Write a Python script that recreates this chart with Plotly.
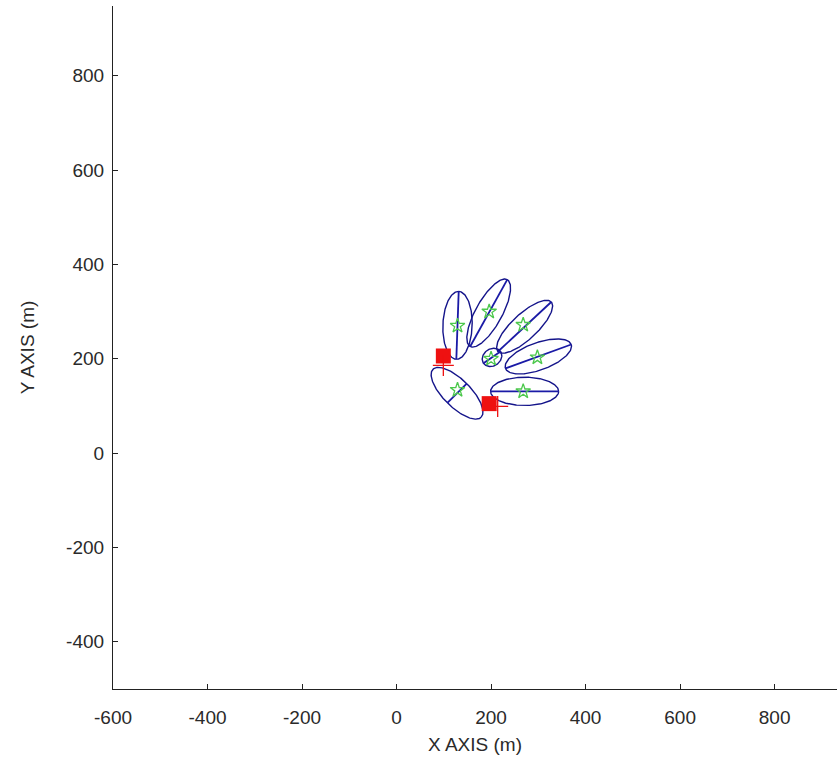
import numpy as np
import plotly.graph_objects as go

# Ellipse parameters (data units)
ell_cx = [129, 195, 271, 300, 271, 128, 202]
ell_cy = [271, 297, 268, 205, 131, 127, 203]
ell_a = [72, 81, 77, 74, 72, 72, 22]      # semi-major
ell_b = [31, 28, 27, 29, 30, 29, 18]      # semi-minor
ell_ang = [88, 61, 43, 20, 0, -45, 35]    # degrees
line_axis = ["major", "major", "major", "major", "major", "minor", "major"]

# Estimated positions (green stars)
star_x = [129, 196, 268, 298, 268, 129, 200]
star_y = [270, 300, 272, 203, 131, 134, 200]

# Anchor nodes (red squares) and their estimates (red plus)
anchor_x = [99, 196]
anchor_y = [206, 105]
anchor_est_x = [99, 214]
anchor_est_y = [186, 99]

x_ticks = [-600, -400, -200, 0, 200, 400, 600, 800]
y_ticks = [-400, -200, 0, 200, 400, 600, 800]

ELL_COLOR = "#14148a"
AXLINE_COLOR = "#1a1aa6"
TXT = "#2a2a2a"
FONT = "Liberation Sans"

fig = go.Figure()

t = np.linspace(0, 2 * np.pi, 200)
for cx, cy, a, b, ang, ax in zip(ell_cx, ell_cy, ell_a, ell_b, ell_ang, line_axis):
    th = np.deg2rad(ang)
    ex = cx + a * np.cos(t) * np.cos(th) - b * np.sin(t) * np.sin(th)
    ey = cy + a * np.cos(t) * np.sin(th) + b * np.sin(t) * np.cos(th)
    fig.add_trace(go.Scatter(x=ex, y=ey, mode="lines",
                             line=dict(color=ELL_COLOR, width=1.4),
                             hoverinfo="skip", showlegend=False))
    if ax == "major":
        L, phi = a, th
    else:
        L, phi = b, th + np.pi / 2
    fig.add_trace(go.Scatter(x=[cx - L * np.cos(phi), cx + L * np.cos(phi)],
                             y=[cy - L * np.sin(phi), cy + L * np.sin(phi)],
                             mode="lines", line=dict(color=AXLINE_COLOR, width=1.8),
                             hoverinfo="skip", showlegend=False))

fig.add_trace(go.Scatter(x=star_x, y=star_y, mode="markers",
                         marker=dict(symbol="star-open", size=11, color="#4cc84c",
                                     line=dict(width=1.3, color="#4cc84c")),
                         showlegend=False))
fig.add_trace(go.Scatter(x=anchor_x, y=anchor_y, mode="markers",
                         marker=dict(symbol="square", size=15, color="#ee1111",
                                     line=dict(width=0)),
                         showlegend=False))
fig.add_trace(go.Scatter(x=anchor_est_x, y=anchor_est_y, mode="markers",
                         marker=dict(symbol="cross-thin", size=15,
                                     line=dict(width=1.3, color="#ee1111")),
                         showlegend=False))

axis_common = dict(showgrid=False, zeroline=False, showline=True, linecolor="#222222",
                   linewidth=1.2, ticks="inside", ticklen=5, tickcolor="#222222",
                   tickfont=dict(family=FONT, size=19, color=TXT))

fig.update_layout(
    width=837, height=767,
    margin=dict(l=113, r=0, t=6, b=78),
    paper_bgcolor="white", plot_bgcolor="white",
    xaxis=dict(range=[-600, 932], tickvals=x_ticks, ticktext=[str(v) for v in x_ticks],
               ticklabelstandoff=11,
               title=dict(text="X AXIS (m)", font=dict(family=FONT, size=19, color=TXT),
                          standoff=10),
               **axis_common),
    yaxis=dict(range=[-500, 948], tickvals=y_ticks, ticktext=[str(v) for v in y_ticks],
               ticklabelstandoff=4,
               title=dict(text="Y AXIS (m)", font=dict(family=FONT, size=19, color=TXT),
                          standoff=26),
               **axis_common),
)

fig.write_html("out.html")
